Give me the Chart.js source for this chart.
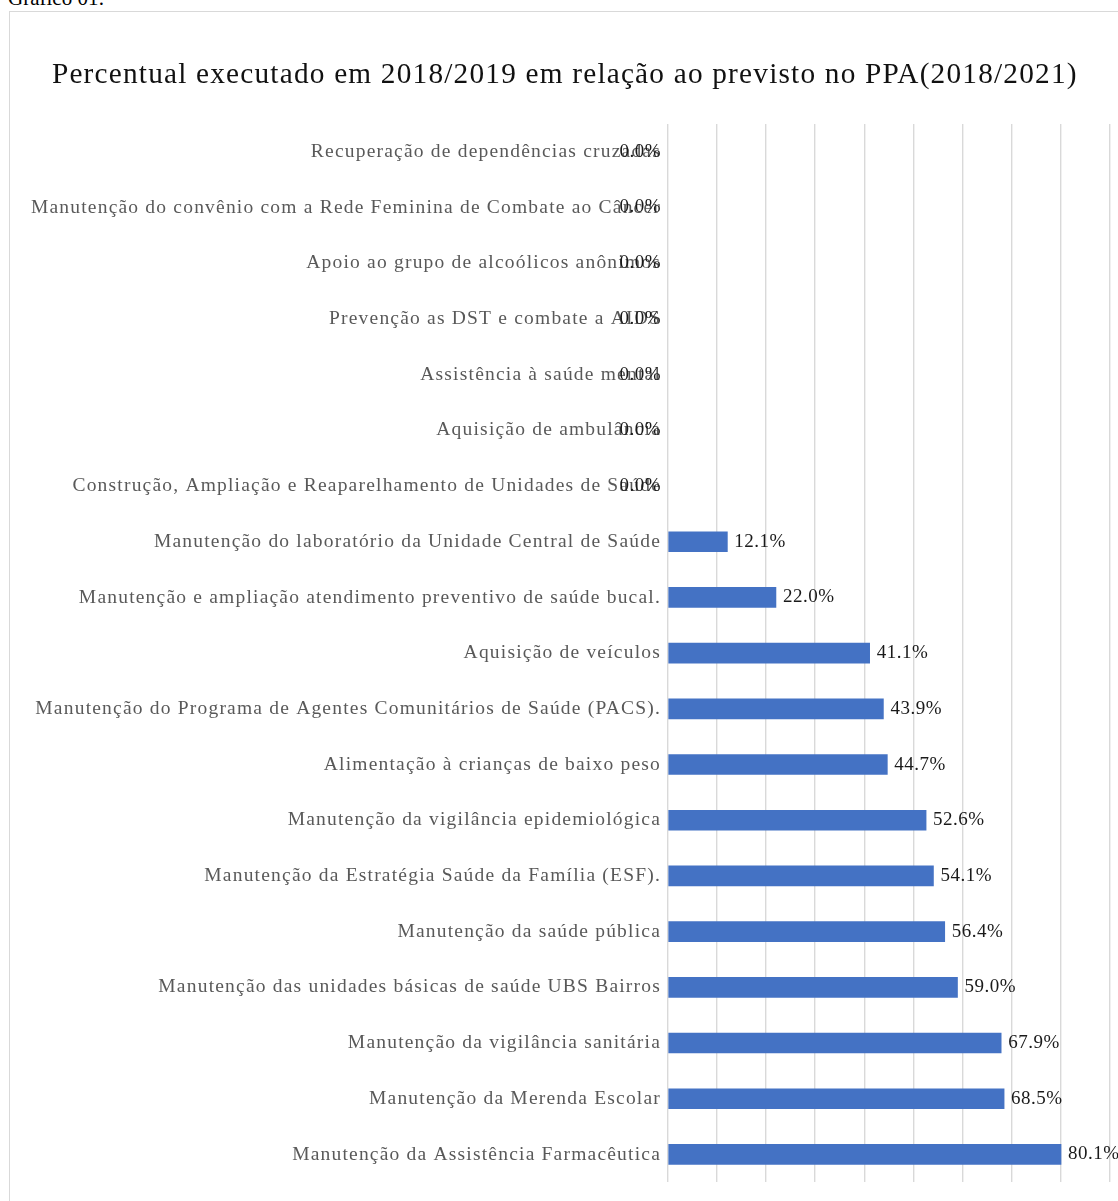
<!DOCTYPE html>
<html lang="pt-BR">
<head>
<meta charset="utf-8">
<title>Gráfico 01</title>
<script src="https://cdn.jsdelivr.net/npm/chart.js@4.4.1/dist/chart.umd.min.js"></script>
<style>
  html, body { margin: 0; padding: 0; background: #fff; overflow: hidden; }
  body { width: 1118px; height: 1201px; position: relative; font-family: "Liberation Serif", serif; }
  #legenda { position: absolute; left: 8px; top: -14px; font-size: 21px; color: #000; }
  #moldura { position: absolute; left: 9px; top: 11px; width: 1200px; height: 1300px; border: 1.5px solid #d9d9d9; box-sizing: border-box; }
  #grafico { position: absolute; left: 0; top: 0; }
</style>
</head>
<body>
<div id="legenda">Gráfico 01:</div>
<div id="moldura"></div>
<canvas id="grafico" width="1118" height="1201"></canvas>
<script>
// Dados do gráfico (de cima para baixo)
const acoes = [
  'Recuperação de dependências cruzadas',
  'Manutenção do convênio com a Rede Feminina de Combate ao Câncer',
  'Apoio ao grupo de alcoólicos anônimos',
  'Prevenção as DST e combate a AIDS',
  'Assistência à saúde mental',
  'Aquisição de ambulância',
  'Construção, Ampliação e Reaparelhamento de Unidades de Saúde',
  'Manutenção do laboratório da Unidade Central de Saúde',
  'Manutenção e ampliação atendimento preventivo de saúde bucal.',
  'Aquisição de veículos',
  'Manutenção do Programa de Agentes Comunitários de Saúde (PACS).',
  'Alimentação à crianças de baixo peso',
  'Manutenção da vigilância epidemiológica',
  'Manutenção da Estratégia Saúde da Família (ESF).',
  'Manutenção da saúde pública',
  'Manutenção das unidades básicas de saúde UBS Bairros',
  'Manutenção da vigilância sanitária',
  'Manutenção da Merenda Escolar',
  'Manutenção da Assistência Farmacêutica'
];
const percentuais = [0, 0, 0, 0, 0, 0, 0, 12.1, 22.0, 41.1, 43.9, 44.7, 52.6, 54.1, 56.4, 59.0, 67.9, 68.5, 80.1];
const tituloGrafico = 'Percentual executado em 2018/2019 em relação ao previsto no PPA(2018/2021)';

// espaçamento entre letras parecido com o Garamond do original
const espacamento = {
  id: 'espacamento',
  beforeDraw(chart) {
    chart.ctx.letterSpacing = '1.2px';
  },
  afterDraw(chart) {
    chart.ctx.letterSpacing = '0px';
  }
};

// rótulos de dados no fim de cada barra
const rotulos = {
  id: 'rotulos',
  afterDatasetsDraw(chart) {
    const ctx = chart.ctx;
    const meta = chart.getDatasetMeta(0);
    ctx.save();
    ctx.letterSpacing = '0.5px';
    ctx.font = '19px "Liberation Serif", serif';
    ctx.fillStyle = '#1a1a1a';
    ctx.textBaseline = 'middle';
    meta.data.forEach((bar, i) => {
      const v = percentuais[i];
      const txt = v.toFixed(1) + '%';
      if (v === 0) {
        ctx.textAlign = 'right';
        ctx.fillText(txt, chart.chartArea.left - 7, bar.y);
      } else {
        ctx.textAlign = 'left';
        ctx.fillText(txt, bar.x + 7, bar.y);
      }
    });
    ctx.restore();
  }
};

const ctx = document.getElementById('grafico').getContext('2d');

new Chart(ctx, {
  type: 'bar',
  data: {
    labels: acoes,
    datasets: [{
      data: percentuais,
      backgroundColor: (c) => (percentuais[c.dataIndex] === 0 ? 'rgba(0,0,0,0)' : '#4472C4'),
      borderWidth: 0,
      barThickness: 20
    }]
  },
  options: {
    indexAxis: 'y',
    responsive: false,
    animation: false,
    layout: { padding: { left: 20, right: 8.4, top: 0, bottom: 17 } },
    plugins: {
      legend: { display: false },
      tooltip: { enabled: false },
      title: {
        display: true,
        text: tituloGrafico,
        color: '#111',
        font: { family: '"Liberation Serif", serif', size: 29.3, weight: 'normal' },
        padding: { top: 57.4, bottom: 31.4 }
      }
    },
    scales: {
      x: {
        min: 0,
        max: 90,
        ticks: { display: false, stepSize: 10 },
        grid: { color: '#d9d9d9', lineWidth: 1.4, drawTicks: false },
        border: { display: false }
      },
      y: {
        afterFit: (scale) => { scale.width = 648; },
        ticks: {
          color: '#595959',
          padding: 7,
          font: { family: '"Liberation Serif", serif', size: 19.5 }
        },
        grid: { display: false, drawTicks: false },
        border: { display: false }
      }
    }
  },
  plugins: [espacamento, rotulos]
});
</script>
</body>
</html>
